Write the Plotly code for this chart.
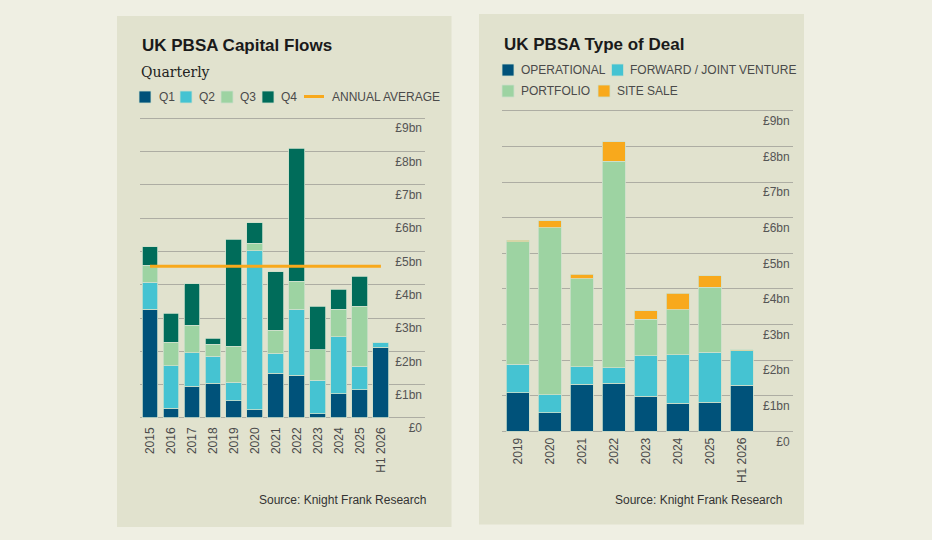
import plotly.graph_objects as go

W, H = 932, 540

# ─── DATA ───
YEARS = ["2015", "2016", "2017", "2018", "2019", "2020", "2021", "2022",
         "2023", "2024", "2025", "H1 2026"]
Q1 = [3.26, 0.29, 0.96, 1.04, 0.51, 0.24, 1.35, 1.29, 0.12, 0.73, 0.85, 2.13]
Q2 = [0.82, 1.28, 1.00, 0.82, 0.57, 4.78, 0.59, 1.98, 1.02, 1.71, 0.70, 0.14]
Q3 = [0.50, 0.70, 0.82, 0.35, 1.08, 0.22, 0.69, 0.83, 0.91, 0.83, 1.81, 0.00]
Q4 = [0.56, 0.87, 1.25, 0.18, 3.20, 0.62, 1.76, 3.99, 1.31, 0.59, 0.90, 0.00]
ANNUAL_AVERAGE = 4.55

DEAL_YEARS = ["2019", "2020", "2021", "2022", "2023", "2024", "2025", "H1 2026"]
OPERATIONAL = [1.08, 0.52, 1.32, 1.35, 0.99, 0.79, 0.82, 1.29]
FORWARD_JV = [0.81, 0.50, 0.49, 0.44, 1.13, 1.36, 1.40, 0.97]
PORTFOLIO = [3.43, 4.70, 2.47, 5.80, 1.03, 1.27, 1.83, 0.00]
SITE_SALE = [0.05, 0.19, 0.13, 0.54, 0.24, 0.46, 0.32, 0.03]

Y_TICKS = [0, 1, 2, 3, 4, 5, 6, 7, 8, 9]
Y_LABELS = ["£0", "£1bn", "£2bn", "£3bn", "£4bn", "£5bn", "£6bn", "£7bn", "£8bn", "£9bn"]

# ─── STYLE ───
PAGE = "#EFEFE3"
PANEL = "#E1E2CE"
DARK_BLUE = "#00527A"
CYAN = "#45C3D2"
LIGHT_GREEN = "#9DD3A2"
TEAL = "#006C5A"
ORANGE = "#F8A91C"
GRID = "#ADADA3"
EDGE = "#CDE0CB"
SANS = "Liberation Sans, Arial, sans-serif"
Y_RANGE = [-0.6, 9.1]


def px(x):
    return x / W


def py(y):
    return 1 - y / H


fig = go.Figure()

# left chart: quarterly capital flows
for name, vals, col in [("Q1", Q1, DARK_BLUE), ("Q2", Q2, CYAN), ("Q3", Q3, LIGHT_GREEN), ("Q4", Q4, TEAL)]:
    fig.add_trace(go.Bar(x=YEARS, y=vals, name=name, marker=dict(color=col, line=dict(color=EDGE, width=0.8)),
                         width=0.76, xaxis="x", yaxis="y", showlegend=False))
fig.add_trace(go.Scatter(x=YEARS, y=[ANNUAL_AVERAGE] * len(YEARS), mode="lines", name="ANNUAL AVERAGE",
                         line=dict(color=ORANGE, width=3), xaxis="x", yaxis="y", showlegend=False))

# right chart: type of deal
for name, vals, col in [("OPERATIONAL", OPERATIONAL, DARK_BLUE), ("FORWARD / JOINT VENTURE", FORWARD_JV, CYAN),
                        ("PORTFOLIO", PORTFOLIO, LIGHT_GREEN), ("SITE SALE", SITE_SALE, ORANGE)]:
    fig.add_trace(go.Bar(x=DEAL_YEARS, y=vals, name=name, marker=dict(color=col, line=dict(color=EDGE, width=0.8)),
                         width=0.73, xaxis="x2", yaxis="y2", showlegend=False))

xcommon = dict(type="category", showgrid=False, zeroline=False, showline=False, ticks="", anchor="free",
               tickangle=-90, tickfont=dict(family=SANS, size=12, color="#4A4A4A"), fixedrange=True)
ycommon = dict(range=Y_RANGE, tickvals=Y_TICKS, ticktext=Y_LABELS, side="right", ticklabelposition="inside",
               ticklabelshift=10, showgrid=True, gridcolor=GRID, gridwidth=1.2, zeroline=False,
               showline=False, ticks="", tickfont=dict(family=SANS, size=12, color="#555555"), fixedrange=True)

# zero at 418px / 431.3px, 33.33px / 35.6px per £1bn
L0, LS = 418, 33.33
R0, RS = 431.3, 35.6

fig.update_layout(
    width=W, height=H,
    margin=dict(l=0, r=0, t=0, b=0),
    paper_bgcolor=PAGE, plot_bgcolor="rgba(0,0,0,0)",
    barmode="stack",
    xaxis=dict(xcommon, domain=[px(139.5), px(425)], range=[-0.5, 13.1], position=py(L0 + 6)),
    yaxis=dict(ycommon, domain=[py(L0 - Y_RANGE[0] * LS), py(L0 - Y_RANGE[1] * LS)], anchor="x"),
    xaxis2=dict(xcommon, domain=[px(501.7), px(792.7)], range=[-0.5, 8.59], position=py(R0 + 3)),
    yaxis2=dict(ycommon, domain=[py(R0 - Y_RANGE[0] * RS), py(R0 - Y_RANGE[1] * RS)], anchor="x2"),
)

# panels
fig.add_shape(type="rect", xref="paper", yref="paper", x0=px(117), x1=px(451.5), y0=py(527), y1=py(16),
              fillcolor=PANEL, line_width=0, layer="below")
fig.add_shape(type="rect", xref="paper", yref="paper", x0=px(479), x1=px(804), y0=py(524.5), y1=py(14),
              fillcolor=PANEL, line_width=0, layer="below")


def text(x, y, s, size=12, color="#4A4A4A", anchor="left", family=SANS, weight=None):
    fig.add_annotation(x=px(x), y=py(y), xref="paper", yref="paper", text=s, showarrow=False,
                       xanchor=anchor, yanchor="middle",
                       font=dict(family=family, size=size, color=color, weight=weight))


def swatch(x, y, col, size=12):
    fig.add_shape(type="rect", xref="paper", yref="paper", x0=px(x), x1=px(x + size),
                  y0=py(y + size / 2), y1=py(y - size / 2), fillcolor=col, line=dict(color=EDGE, width=0.8))


# left header
text(140, 46, "UK PBSA Capital Flows", size=17, color="#1A1A1A", weight="bold")
text(139, 72, "Quarterly", size=14, color="#222222", family="DejaVu Serif, serif")
for sx, tx, col, lab in [(139, 157, DARK_BLUE, "Q1"), (180, 197, CYAN, "Q2"),
                         (221, 238.5, LIGHT_GREEN, "Q3"), (262, 279, TEAL, "Q4")]:
    swatch(sx, 97, col)
    text(tx, 97, lab)
fig.add_shape(type="line", xref="paper", yref="paper", x0=px(304), x1=px(324), y0=py(96.5), y1=py(96.5),
              line=dict(color=ORANGE, width=3))
text(329.5, 97, "ANNUAL AVERAGE")
text(428, 499.5, "Source: Knight Frank Research", color="#333333", anchor="right")

# right header
text(501.5, 44.5, "UK PBSA Type of Deal", size=17, color="#1A1A1A", weight="bold")
for sx, tx, yy, col, lab in [(502, 519, 70, DARK_BLUE, "OPERATIONAL"), (611.5, 628, 70, CYAN, "FORWARD / JOINT VENTURE"),
                             (502, 519, 91, LIGHT_GREEN, "PORTFOLIO"), (598, 615, 91, ORANGE, "SITE SALE")]:
    swatch(sx, yy, col)
    text(tx, yy, lab)
text(783.5, 499.5, "Source: Knight Frank Research", color="#333333", anchor="right")

fig.write_html("out.html", config={"displayModeBar": False},
               post_script="document.body.style.margin='0';")
